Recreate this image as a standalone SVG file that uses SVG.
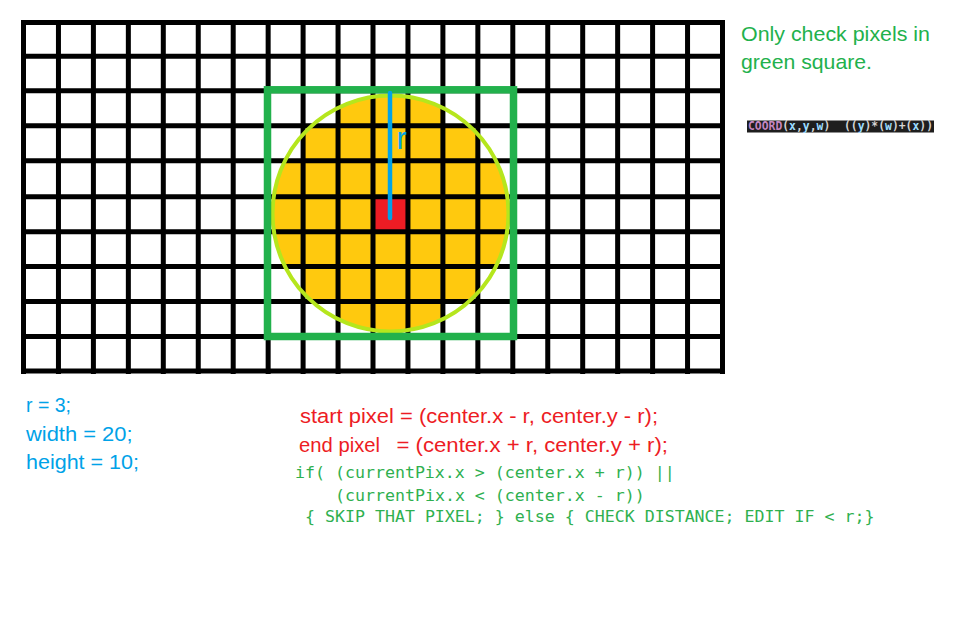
<svg xmlns="http://www.w3.org/2000/svg" width="968" height="617" viewBox="0 0 968 617">
<defs>
<style>
.grid{stroke:#000;stroke-width:5;fill:none}
.sans{font-family:"Liberation Sans",Arial,sans-serif}
.mono{font-family:"DejaVu Sans Mono","Liberation Mono",monospace}
.blue{fill:#00a2e8}
.red{fill:#ed1c24}
.green{fill:#22b14c}
.code{fill:#2fb04f}
</style>
<clipPath id="circClip"><circle cx="390.5" cy="213.5" r="119"/></clipPath>
</defs>
<rect x="0" y="0" width="968" height="617" fill="#fff"/>
<g id="fill-cells">
<path clip-path="url(#circClip)" fill="#ffc90e" d="M338.05,90.7H442.9V125.8H477.85V160.8H512.8V266.5H477.85V301.6H442.9V336.4H338.05V301.6H303.1V266.5H268.15V160.8H303.1V125.8H338.05Z"/>
<rect id="center-pixel" x="373" y="196.7" width="34.95" height="35" fill="#ed1c24"/>
</g>
<g id="grid">
<path class="grid" d="M23.5,20V374M58.45,20V374M93.4,20V374M128.35,20V374M163.3,20V374M198.25,20V374M233.2,20V374M268.15,20V374M303.1,20V374M338.05,20V374M373,20V374M407.95,20V374M442.9,20V374M477.85,20V374M512.8,20V374M547.75,20V374M582.7,20V374M617.65,20V374M652.6,20V374M687.55,20V374M722.5,20V374"/>
<path class="grid" d="M21,22.5H725M21,56.3H725M21,90.7H725M21,125.8H725M21,160.8H725M21,196.7H725M21,231.7H725M21,266.5H725M21,301.6H725M21,336.4H725M21,371H725"/>
</g>
<g id="circle">
<circle cx="390.5" cy="213.5" r="118" fill="none" stroke="#b5e61d" stroke-width="4"/>
</g>
<g id="green-square">
<rect x="267.5" y="89.8" width="246" height="246.7" fill="none" stroke="#22b14c" stroke-width="7.5"/>
</g>
<g id="radius">
<line x1="390" y1="93" x2="390" y2="218" stroke="#00a2e8" stroke-width="4.5" stroke-linecap="round"/>
<text class="sans blue" x="396.5" y="149" font-size="31">r</text>
</g>
<g id="note">
<text class="sans green" x="741" y="41" font-size="21" textLength="189" lengthAdjust="spacingAndGlyphs">Only check pixels in</text>
<text class="sans green" x="741" y="69" font-size="21" textLength="131" lengthAdjust="spacingAndGlyphs">green square.</text>
</g>
<g id="coord-snippet">
<rect x="747" y="120.5" width="187" height="12" fill="#1e1e1e"/>
<text class="mono" x="748" y="130" font-size="11.5" font-weight="bold" textLength="185" lengthAdjust="spacingAndGlyphs" xml:space="preserve"><tspan fill="#c586c0">COORD</tspan><tspan fill="#d4d4d4">(</tspan><tspan fill="#9cdcfe">x</tspan><tspan fill="#d4d4d4">,</tspan><tspan fill="#9cdcfe">y</tspan><tspan fill="#d4d4d4">,</tspan><tspan fill="#9cdcfe">w</tspan><tspan fill="#d4d4d4">)  ((</tspan><tspan fill="#9cdcfe">y</tspan><tspan fill="#d4d4d4">)*(</tspan><tspan fill="#9cdcfe">w</tspan><tspan fill="#d4d4d4">)+(</tspan><tspan fill="#9cdcfe">x</tspan><tspan fill="#d4d4d4">))</tspan></text>
</g>
<g id="params">
<text class="sans blue" x="26" y="412" font-size="20" textLength="45" lengthAdjust="spacingAndGlyphs">r = 3;</text>
<text class="sans blue" x="26" y="441" font-size="20" textLength="106.5" lengthAdjust="spacingAndGlyphs">width = 20;</text>
<text class="sans blue" x="26" y="469" font-size="20" textLength="113" lengthAdjust="spacingAndGlyphs">height = 10;</text>
</g>
<g id="formulas">
<text class="sans red" x="300" y="423" font-size="20.5" textLength="358" lengthAdjust="spacingAndGlyphs">start pixel = (center.x - r, center.y - r);</text>
<text class="sans red" x="299" y="452" font-size="20.5" textLength="81" lengthAdjust="spacingAndGlyphs">end pixel</text>
<text class="sans red" x="396.5" y="452" font-size="20.5" textLength="271.5" lengthAdjust="spacingAndGlyphs">= (center.x + r, center.y + r);</text>
</g>
<g id="code">
<text class="mono code" x="295" y="478" font-size="16.6" xml:space="preserve">if( (currentPix.x &gt; (center.x + r)) ||</text>
<text class="mono code" x="335" y="501" font-size="16.6" xml:space="preserve">(currentPix.x &lt; (center.x - r))</text>
<text class="mono code" x="305" y="522" font-size="16.6" xml:space="preserve">{ SKIP THAT PIXEL; } else { CHECK DISTANCE; EDIT IF &lt; r;}</text>
</g>
</svg>
